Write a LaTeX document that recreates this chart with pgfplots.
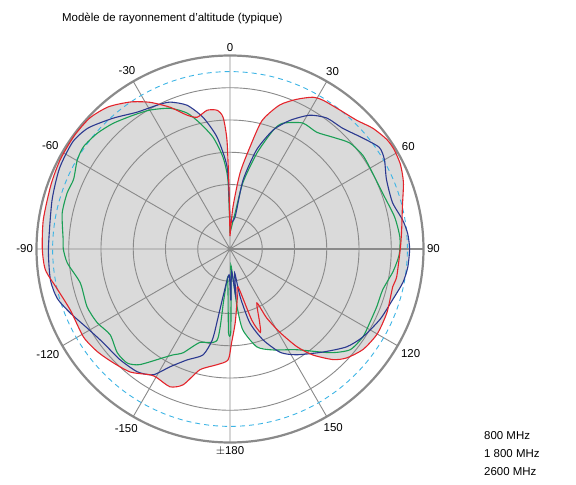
\documentclass[border=0pt]{standalone}
\usepackage{pgfplots}
\pgfplotsset{compat=1.18}
\usepackage{pgfplotstable}
\usepgfplotslibrary{polar}
\usepackage{fontspec}
\setmainfont{Liberation Sans}

\definecolor{c800}{HTML}{E3242B}
\definecolor{c1800}{HTML}{2B3990}
\definecolor{c2600}{HTML}{1A9F55}
\definecolor{cdash}{HTML}{3CB4E5}
\definecolor{gfill}{HTML}{DADADA}
\definecolor{ggrid}{HTML}{8A8A8A}

% angle (deg, clockwise from top), radius (ring units, outer circle = 6)
\pgfplotstableread{
th r
0 0.4
4 1.3
7.5 2.37
11 3.2
14 4.1
19 4.72
24 5.08
28.6 5.36
32 5.44
38 5.49
44.5 5.6
49.8 5.8
55 5.93
58.7 5.95
63.6 5.9
69 5.76
76 5.51
82.7 5.37
89 5.29
99.5 5.24
103 5.18
112 5.25
120 5.27
127 5.17
133 4.95
137 4.69
142 4.17
145.6 3.67
149 3.03
152 2.42
153.5 1.87
158 2.45
160 2.75
163 2.3
168 1.2
172 1.6
176 2.3
179 2.9
-179 3.44
-173.6 3.61
-166 3.86
-161 4.45
-156.5 4.66
-150.5 4.59
-147.6 4.62
-141 4.91
-134 5.06
-127.8 5.2
-121 5.3
-111 5.3
-103 5.5
-96.5 5.76
-90 5.82
-81 5.86
-70 5.9
-62 5.95
-54 5.97
-46.9 5.95
-40.5 5.8
-34 5.5
-28.6 5.18
-22.9 4.77
-17.8 4.36
-14 4.21
-9.4 4.36
-5.3 4.32
-3 4.09
-1.6 3.38
-1 2.0
0 0.4
}\redpat

\pgfplotstableread{
th r
0 0.8
9 1.0
10.7 2.17
15 3.18
19.9 3.92
25 4.4
30.8 4.83
36.5 5.05
43 5.12
50 5.36
55.8 5.6
60 5.53
66 5.31
74 5.24
80.5 5.43
85 5.53
90 5.57
96 5.54
101 5.46
107 5.29
115 5.14
123.5 4.94
130 4.72
138 4.3
147.7 3.88
154 3.57
160 3.0
165 2.37
168 1.52
169 0.76
173 1.5
176 0.7
179 1.6
-178 0.8
-172 1.4
-170 2.23
-169 2.87
-165.7 3.39
-158.8 3.69
-153 4.1
-148.6 4.57
-143 4.77
-135 4.84
-126.5 4.89
-119 5.06
-112 5.33
-106 5.57
-99.8 5.65
-90 5.63
-74.8 5.72
-64.6 5.85
-55.7 5.9
-49.5 5.78
-41.8 5.44
-34.2 5.13
-26.9 5.0
-22.2 4.92
-16.6 4.65
-11.6 4.17
-6.6 3.49
-2 2.54
-0.5 1.2
0 0.8
}\bluepat

\pgfplotstableread{
th r
0 0.5
8 1.12
11 2.1
15.7 3.09
20 3.92
22.8 4.23
30 4.51
36.6 4.51
42.6 4.71
48.5 4.96
54.8 5.04
62 5.01
70 5.04
79 5.2
86 5.28
91 5.26
93.7 5.21
98 5.1
105 4.9
111.5 4.89
117.9 4.9
123.5 4.94
130 4.86
136 4.47
146.4 3.75
157 3.4
164.6 3.15
171 2.54
173 1.81
174 0.97
177 0.5
178.5 1.3
179.5 2.6
-179 2.6
-177.5 1.4
-175 0.9
-173 1.6
-172 2.85
-162 3.05
-155.7 3.53
-151.7 3.73
-148.4 3.96
-142 4.55
-138 4.76
-132.6 4.75
-125.6 4.57
-119 4.71
-112 4.78
-102.8 4.76
-95 5.06
-90 5.17
-87 5.18
-78 5.32
-71 5.34
-66 5.31
-59.8 5.48
-55 5.54
-48.9 5.46
-42.9 5.32
-35.9 5.12
-29.9 4.97
-23 4.74
-17.5 4.42
-13.4 4.01
-8.6 3.5
-4.4 2.86
-1.7 2.14
0 0.5
}\greenpat

\begin{document}
\begin{tikzpicture}
\begin{polaraxis}[
    set layers,
    scale only axis,
    width=387bp, height=387bp,
    ymin=0, ymax=6,
    ytick={1,2,3,4,5},
    yticklabels={},
    extra y ticks={5.5},
    extra y tick labels={},
    extra y tick style={major grid style={cdash, line width=0.9bp, dash pattern=on 5bp off 4bp}},
    xtick={0,30,...,330},
    xticklabels={90,60,30,0,-30,-60,-90,-120,-150,$\pm$180,150,120},
    grid=major,
    major grid style={ggrid, line width=0.9bp},
    axis line style={ggrid, line width=2.2bp},
    tick style={draw=none},
    x filter/.expression={90-x},
    ticklabel style={font=\fontsize{11.5}{13}\selectfont},
    clip=false,
]
\coordinate (C) at (axis cs:0,0);
\addplot[on layer=axis background, draw=none, fill=gfill] table[x=th, y=r] {\redpat};
\addplot[on layer=axis background, draw=none, fill=gfill] table[x=th, y=r] {\bluepat};
\addplot[on layer=axis background, draw=none, fill=gfill] table[x=th, y=r] {\greenpat};
\addplot[c2600, line width=1.1bp, smooth, tension=0.4] table[x=th, y=r] {\greenpat};
\addplot[c1800, line width=1.1bp, smooth, tension=0.4] table[x=th, y=r] {\bluepat};
\addplot[c800, line width=1.1bp, smooth, tension=0.4] table[x=th, y=r] {\redpat};
\end{polaraxis}
\pgfresetboundingbox
\useasboundingbox ([shift={(-230bp,-236bp)}]C) rectangle ([shift={(346bp,249bp)}]C);
\node[anchor=west, font=\fontsize{11.5}{13}\selectfont, inner sep=0pt] at ([shift={(-168bp,231bp)}]C) {Modèle de rayonnement d'altitude (typique)};
\node[anchor=west, font=\fontsize{11.5}{13}\selectfont, inner sep=0pt] at ([shift={(254bp,-187bp)}]C) {800 MHz};
\node[anchor=west, font=\fontsize{11.5}{13}\selectfont, inner sep=0pt] at ([shift={(254bp,-205bp)}]C) {1 800 MHz};
\node[anchor=west, font=\fontsize{11.5}{13}\selectfont, inner sep=0pt] at ([shift={(254bp,-223bp)}]C) {2600 MHz};
\end{tikzpicture}
\end{document}
